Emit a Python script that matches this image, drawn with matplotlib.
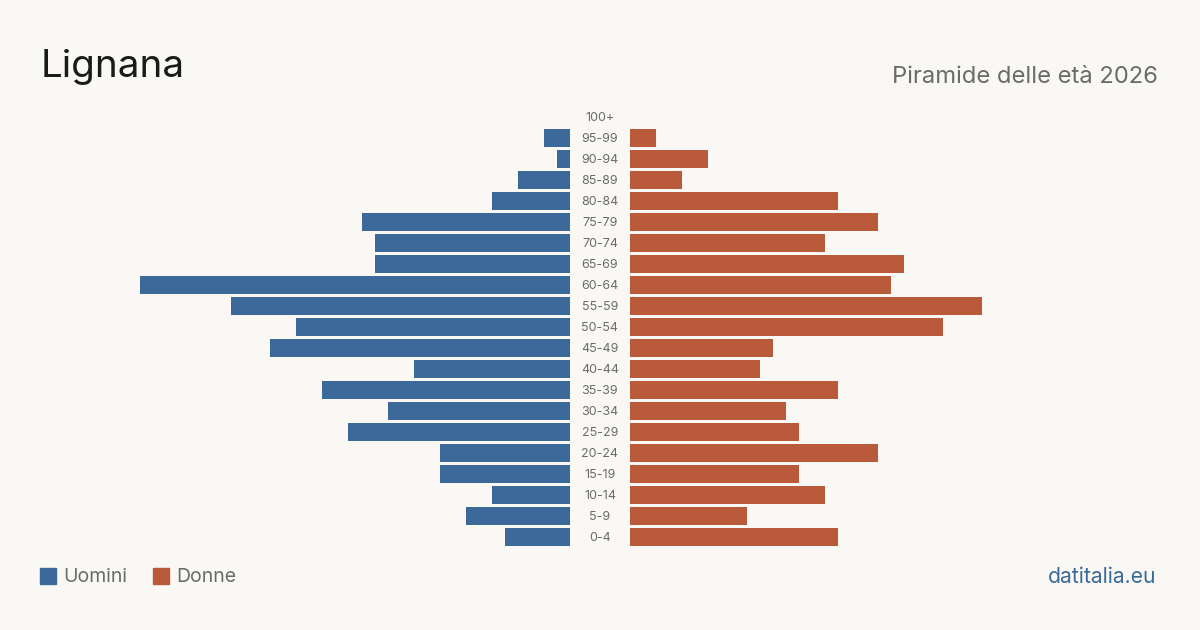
import numpy as np
import matplotlib.pyplot as plt

# dati: fasce d'età dal basso verso l'alto
eta = ['0-4', '5-9', '10-14', '15-19', '20-24', '25-29', '30-34', '35-39',
       '40-44', '45-49', '50-54', '55-59', '60-64', '65-69', '70-74', '75-79',
       '80-84', '85-89', '90-94', '95-99', '100+']
uomini = [5, 8, 6, 10, 10, 17, 14, 19, 12, 23, 21, 26, 33, 15, 15, 16, 6, 4, 1, 2, 0]
donne = [16, 9, 15, 13, 19, 13, 12, 16, 10, 11, 24, 27, 20, 21, 15, 19, 16, 4, 6, 2, 0]

BG = '#f9f8f4'
BLU = '#3b6a9a'
ROSSO = '#b95b3b'
GRIGIO = '#6b6b6b'
plt.rcParams['font.family'] = ['Inter', 'DejaVu Sans']

W, H = 1200, 630
fig = plt.figure(figsize=(12, 6.3), dpi=100, facecolor=BG)

def ax_px(x0, y0, w, h):
    # y0 = bordo superiore in pixel
    return fig.add_axes([x0 / W, 1 - (y0 + h) / H, w / W, h / H])

top, alt = 106.5, 441
ax_m = ax_px(140, top, 430, alt)
ax_f = ax_px(630, top, 430, alt)

y = np.arange(len(eta))
ax_m.barh(y, uomini, height=0.81, color=BLU)
ax_f.barh(y, donne, height=0.81, color=ROSSO)
ax_m.set_xlim(33, 0)
ax_f.set_xlim(0, 33)
for ax in (ax_m, ax_f):
    ax.set_ylim(-0.5, len(eta) - 0.5)
    ax.set_facecolor('none')
    ax.axis('off')

# etichette centrali
for i, lab in enumerate(eta):
    fig.text(600 / W, 1 - (top + 1 + alt * (len(eta) - 0.5 - i) / len(eta)) / H, lab,
             ha='center', va='center', fontsize=9, color=GRIGIO)

fig.text(41 / W, 1 - 67 / H, 'Lignana', fontsize=27.8, color='#1a1a1a', va='center')
fig.text(1158 / W, 1 - 77 / H, 'Piramide delle età 2026', fontsize=17.1,
         color=GRIGIO, ha='right', va='center')

# legenda
for x0, col, txt in [(40, BLU, 'Uomini'), (153, ROSSO, 'Donne')]:
    fig.patches.append(plt.Rectangle((x0 / W, 1 - 584 / H), 16 / W, 16 / H,
                                     transform=fig.transFigure, color=col))
    fig.text((x0 + 23) / W, 1 - 577 / H, txt, fontsize=14, color=GRIGIO, va='center')

fig.text(1156 / W, 1 - 577 / H, 'datitalia.eu', fontsize=15.2, color=BLU,
         ha='right', va='center')

fig.savefig('out.png', dpi=100, facecolor=BG)
